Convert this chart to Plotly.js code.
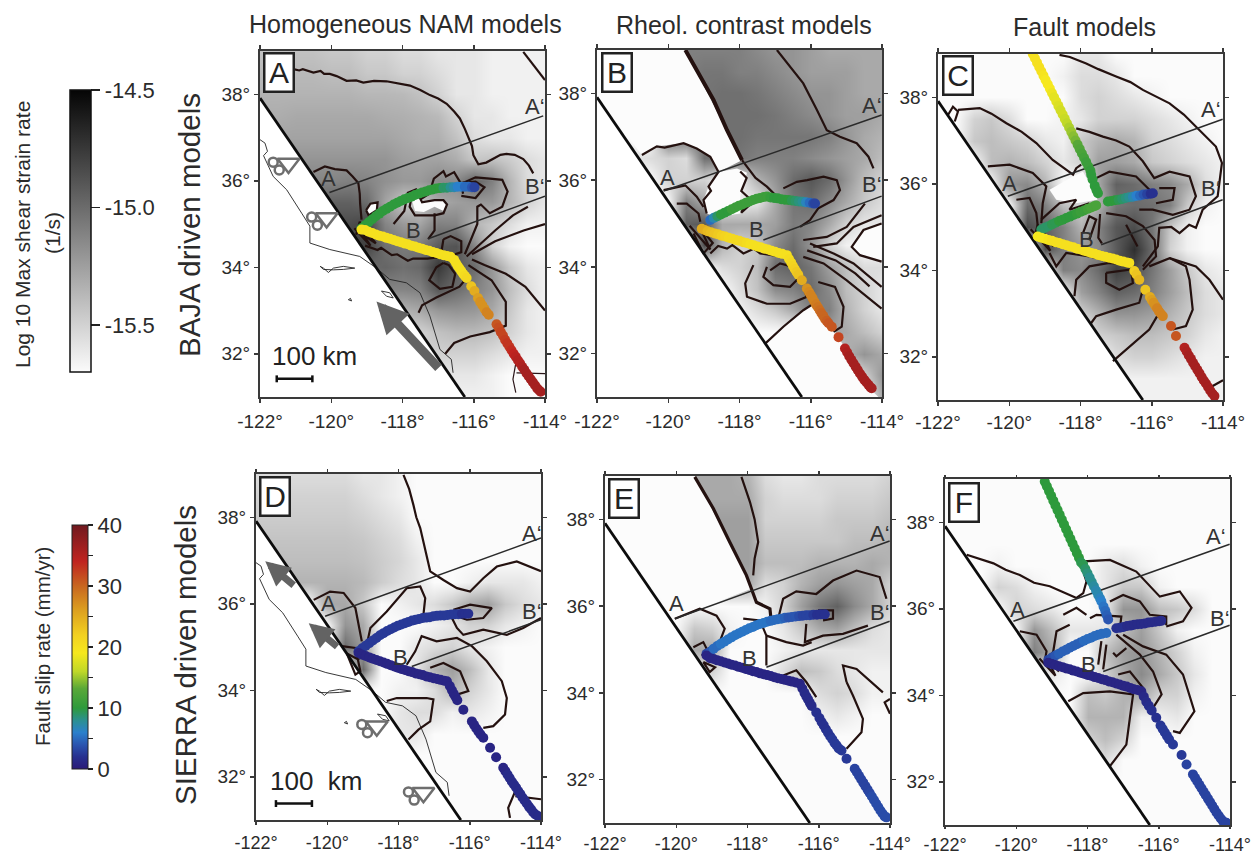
<!DOCTYPE html>
<html><head><meta charset="utf-8">
<script src="https://cdn.plot.ly/plotly-3.0.1.min.js"></script>
<style>html,body{margin:0;padding:0;background:#fff}#g{width:1252px;height:855px}</style></head>
<body><div id="g"></div>
<script>
const gridLon=[-122,-121.5,-121,-120.5,-120,-119.5,-119,-118.5,-118,-117.5,-117,-116.5,-116,-115.5,-115,-114.5,-114];
const gridLat=[39,38.5,38,37.5,37,36.5,36,35.5,35,34.5,34,33.5,33,32.5,32,31.5,31];
const W=-15.7;
const zA=[
[-15.42,-15.42,-15.42,-15.42,-15.45,-15.45,-15.5,-15.5,-15.55,-15.55,-15.6,-15.6,-15.6,-15.65,-15.65,-15.65,-15.65],
[-15.38,-15.38,-15.38,-15.38,-15.4,-15.4,-15.45,-15.45,-15.5,-15.5,-15.55,-15.6,-15.6,-15.65,-15.65,-15.65,-15.65],
[-15.35,-15.35,-15.35,-15.35,-15.35,-15.35,-15.37,-15.37,-15.38,-15.42,-15.5,-15.6,-15.6,-15.65,-15.65,-15.65,-15.65],
[-15.32,-15.32,-15.3,-15.3,-15.3,-15.3,-15.3,-15.32,-15.33,-15.35,-15.38,-15.5,-15.6,-15.6,-15.65,-15.65,-15.65],
[-15.27,-15.27,-15.27,-15.27,-15.27,-15.27,-15.27,-15.27,-15.3,-15.33,-15.33,-15.42,-15.55,-15.6,-15.6,-15.65,-15.65],
[-15.2,-15.2,-15.2,-15.2,-15.2,-15.2,-15.2,-15.2,-15.25,-15.27,-15.27,-15.32,-15.45,-15.42,-15.47,-15.55,-15.6],
[-15.12,-15.12,-15.12,-15.12,-15.12,-15.1,-15.12,-15.18,-15.22,-15.22,-15.15,-15.15,-14.95,-15.1,-15.35,-15.55,-15.6],
[-14.95,-14.95,-14.95,-14.95,-14.95,-14.95,-15,-15.27,-15.45,-15.45,-15.3,-15.25,-15.22,-15.22,-15.35,-15.5,-15.6],
[-14.85,-14.85,-14.85,-14.85,-14.85,-14.85,-14.8,-15.12,-15.22,-15.27,-15.1,-15.12,-15.35,-15.45,-15.55,-15.65,-15.65],
[-14.8,-14.8,-14.8,-14.8,-14.8,-14.8,-14.8,-15.02,-15.07,-15.07,-14.92,-14.88,-15.12,-15.5,-15.65,W,W],
[-15,-15,-15,-15,-15,-15,-15,-14.97,-15.02,-14.98,-14.75,-14.92,-15,-15.22,-15.45,-15.6,-15.65],
[-15.1,-15.1,-15.1,-15.1,-15.1,-15.1,-15.1,-15.12,-15.12,-15.1,-14.9,-15,-15.1,-15.2,-15.4,-15.55,-15.65],
[-15.35,-15.35,-15.35,-15.35,-15.35,-15.35,-15.35,-15.35,-15.35,-15.3,-15.22,-15.2,-15.22,-15.3,-15.45,-15.6,-15.65],
[-15.5,-15.5,-15.5,-15.5,-15.5,-15.5,-15.5,-15.5,-15.5,-15.5,-15.42,-15.38,-15.38,-15.42,-15.5,-15.6,-15.65],
[-15.5,-15.5,-15.5,-15.5,-15.5,-15.5,-15.5,-15.5,-15.5,-15.5,-15.5,-15.5,-15.5,-15.55,-15.6,-15.65,-15.65],
[-15.6,-15.6,-15.6,-15.6,-15.6,-15.6,-15.6,-15.6,-15.6,-15.6,-15.6,-15.6,-15.6,-15.65,W,W,W],
[-15.65,-15.65,-15.65,-15.65,-15.65,-15.65,-15.65,-15.65,-15.65,-15.65,-15.65,-15.65,-15.65,-15.65,W,W,W]];
const zB=[
[W,W,W,W,-15.1,-15.1,-15.1,-15.1,-15.1,-15.15,-15.2,-15.2,-15.25,-15.3,-15.3,-15.3,-15.3],
[W,W,W,W,-15.1,-15.1,-15.05,-15.05,-15.1,-15.1,-15.15,-15.2,-15.25,-15.25,-15.25,-15.3,-15.3],
[W,W,W,W,-15.05,-15.05,-15.05,-15.02,-15.02,-15.05,-15.1,-15.15,-15.2,-15.2,-15.25,-15.3,-15.3],
[W,W,W,W,-15.02,-15.02,-15.02,-15.02,-15.02,-15.02,-15.05,-15.1,-15.15,-15.2,-15.25,-15.25,-15.3],
[W,W,W,W,-15.02,-15.02,-15.02,-15.02,-15.02,-15.05,-15.05,-15.05,-15.05,-15.1,-15.2,-15.3,-15.35],
[W,W,-15.6,-15.55,-15.5,-15.55,-15.02,-15.02,-15.05,-15.1,-15.1,-15.1,-15.15,-15.2,-15.25,-15.3,-15.4],
[W,W,W,W,-15.5,-15.5,-15.5,-15.65,-15.6,-15.35,-15.2,-15,-14.9,-15,-15.2,-15.4,-15.5],
[W,W,W,W,W,-15.1,-15.3,-15.65,-15.65,-15.6,-15.3,-15.05,-15,-15.15,-15.3,-15.45,-15.55],
[W,W,W,W,W,-14.95,-14.9,-15.3,-15.3,-15.3,-15.25,-15.08,-15.12,-15.3,-15.5,-15.6,-15.6],
[W,W,W,W,W,W,-14.85,-15.35,-15.5,-15.45,-15.15,-15,-15.2,-15.5,-15.65,W,W],
[W,W,W,W,W,W,W,-15.55,-15.5,-15.4,-15,-14.95,-15.05,-15.25,-15.4,-15.55,-15.55],
[W,W,W,W,W,W,W,W,-15.55,-15.42,-15.15,-15.1,-15,-15.15,-15.4,-15.5,-15.6],
[W,W,W,W,W,W,W,W,-15.65,-15.55,-15.45,-15.3,-15.1,-15.1,-15.35,-15.5,-15.6],
[W,W,W,W,W,W,W,W,W,W,W,W,W,-15.25,-15.3,-15.4,-15.5],
[W,W,W,W,W,W,W,W,W,W,W,W,W,W,-15.35,-15.2,-15.3],
[W,W,W,W,W,W,W,W,W,W,W,W,W,W,W,-15.5,-15.2],
[W,W,W,W,W,W,W,W,W,W,W,W,W,W,W,W,-15.3]];
const zC=[
[W,W,W,W,W,W,W,W,-15.6,-15.6,W,W,W,W,W,W,W],
[W,W,W,W,W,W,W,-15.65,-15.55,-15.55,-15.6,W,W,W,W,W,W],
[W,W,W,W,W,W,W,W,-15.55,-15.5,-15.55,-15.6,-15.65,W,W,W,W],
[W,W,-15.5,-15.45,-15.55,W,W,-15.65,-15.6,-15.5,-15.5,-15.5,-15.55,-15.6,-15.65,W,W],
[W,W,-15.45,-15.4,-15.45,-15.5,-15.6,-15.65,-15.45,-15.35,-15.3,-15.35,-15.5,-15.55,-15.6,-15.65,W],
[W,W,W,-15.4,-15.35,-15.4,-15.5,-15.6,-15.5,-15.25,-15.25,-15.3,-15.45,-15.5,-15.55,-15.6,-15.65],
[W,W,W,W,-15.2,-15.15,-15.35,W,W,-15.3,-14.95,-15,-15.1,-15.15,-15.3,-15.55,-15.65],
[W,W,W,W,W,-15,-15.1,-15.4,-15.5,-15.35,-15.05,-15,-15.02,-15.1,-15.45,-15.65,W],
[W,W,W,W,W,-14.85,-14.95,-15.1,-15.35,-15.12,-14.9,-14.85,-15.05,-15.45,-15.65,W,W],
[W,W,W,W,W,W,-14.85,-15.1,-15.2,-15.15,-14.92,-14.7,-15,-15.5,-15.65,W,W],
[W,W,W,W,W,W,W,-15.1,-15.15,-15,-14.78,-14.85,-15.05,-15.25,-15.45,-15.6,-15.65],
[W,W,W,W,W,W,W,W,-15.25,-15.12,-14.95,-15,-15.1,-15.25,-15.4,-15.55,-15.6],
[W,W,W,W,W,W,W,W,-15.5,-15.35,-15.2,-15.2,-15.25,-15.35,-15.45,-15.55,-15.6],
[W,W,W,W,W,W,W,W,W,-15.5,-15.45,-15.4,-15.4,-15.45,-15.5,-15.6,-15.65],
[W,W,W,W,W,W,W,W,W,W,-15.55,-15.5,-15.5,-15.55,-15.6,-15.65,-15.65],
[W,W,W,W,W,W,W,W,W,W,-15.65,-15.65,-15.65,-15.65,-15.65,-15.65,-15.65],
[W,W,W,W,W,W,W,W,W,W,W,-15.65,-15.65,-15.65,-15.65,-15.65,-15.65]];
const zD=[
[-15.55,-15.55,-15.55,-15.55,-15.55,-15.55,-15.6,-15.6,-15.65,W,W,W,W,W,W,W,W],
[-15.5,-15.5,-15.5,-15.5,-15.5,-15.5,-15.55,-15.6,-15.65,W,W,W,W,W,W,W,W],
[-15.47,-15.47,-15.47,-15.47,-15.47,-15.47,-15.5,-15.55,-15.6,W,W,W,W,W,W,W,W],
[-15.43,-15.43,-15.43,-15.43,-15.43,-15.43,-15.45,-15.5,-15.55,-15.65,W,W,W,W,W,W,W],
[-15.4,-15.4,-15.4,-15.4,-15.4,-15.4,-15.42,-15.47,-15.52,-15.6,W,W,W,W,W,W,W],
[-15.35,-15.35,-15.35,-15.35,-15.35,-15.35,-15.38,-15.47,-15.55,-15.6,W,W,-15.65,-15.6,-15.6,-15.6,-15.65],
[W,W,W,W,-15.3,-15.3,-15.45,W,-15.65,-15.6,-15.55,-15.45,-15.3,-15.25,-15.45,-15.55,-15.6],
[W,W,W,W,W,-15.2,-15.3,W,W,W,-15.65,-15.6,-15.5,-15.5,-15.6,-15.65,W],
[W,W,W,W,W,-15,-15.25,W,W,-15.6,-15.55,-15.5,-15.6,-15.65,W,W,W],
[W,W,W,W,W,W,-15,W,W,-15.6,-15.35,-15.25,-15.4,-15.6,W,W,W],
[W,W,W,W,W,W,W,W,-15.65,-15.65,-15.55,-15.35,-15.5,-15.6,W,W,W],
[W,W,W,W,W,W,W,W,-15.6,-15.55,-15.55,-15.65,-15.6,-15.65,W,W,W],
[W,W,W,W,W,W,W,W,-15.6,-15.6,W,W,W,W,W,W,W],
[W,W,W,W,W,W,W,W,W,W,W,W,W,W,W,W,W],
[W,W,W,W,W,W,W,W,W,W,W,W,W,W,W,W,W],
[W,W,W,W,W,W,W,W,W,W,W,W,W,W,W,W,W],
[W,W,W,W,W,W,W,W,W,W,W,W,W,W,W,W,W]];
const zE=[
[W,W,W,W,W,-15.3,-15.3,-15.3,-15.35,-15.55,-15.6,-15.6,-15.55,-15.55,-15.55,-15.55,-15.5],
[W,W,W,W,-15.3,-15.3,-15.3,-15.3,-15.3,-15.5,-15.55,-15.55,-15.55,-15.5,-15.5,-15.5,-15.45],
[W,W,W,W,-15.25,-15.25,-15.25,-15.25,-15.25,-15.5,-15.5,-15.5,-15.5,-15.45,-15.45,-15.45,-15.4],
[W,W,W,W,-15.25,-15.25,-15.25,-15.25,-15.25,-15.45,-15.45,-15.45,-15.45,-15.45,-15.4,-15.4,-15.35],
[W,W,W,W,-15.25,-15.25,-15.25,-15.25,-15.25,-15.4,-15.4,-15.4,-15.35,-15.35,-15.35,-15.3,-15.35],
[W,W,W,W,W,W,W,-15.3,-15.3,-15.55,-15.5,-15.35,-15.25,-15.2,-15.25,-15.3,-15.5],
[W,W,W,W,W,W,W,W,W,-15.65,-15.5,-15.25,-15.05,-14.95,-15.15,-15.3,-15.5],
[W,W,W,W,W,-15.45,-15.5,-15.65,W,W,-15.6,-15.45,-15.3,-15.25,-15.4,-15.55,-15.6],
[W,W,W,W,W,-15.3,-15.3,W,W,W,-15.65,-15.6,-15.6,-15.6,-15.6,-15.6,-15.6],
[W,W,W,W,W,W,-15.5,W,W,W,-15.55,-15.4,-15.45,-15.55,-15.6,-15.65,-15.65],
[W,W,W,W,W,W,W,W,W,W,W,W,-15.55,-15.5,-15.55,-15.65,-15.65],
[W,W,W,W,W,W,W,W,W,W,W,W,-15.65,-15.6,-15.65,W,W],
[W,W,W,W,W,W,W,W,W,W,W,W,W,W,W,W,W],
[W,W,W,W,W,W,W,W,W,W,W,W,W,W,W,W,W],
[W,W,W,W,W,W,W,W,W,W,W,W,W,W,W,W,W],
[W,W,W,W,W,W,W,W,W,W,W,W,W,W,W,W,W],
[W,W,W,W,W,W,W,W,W,W,W,W,W,W,W,W,W]];
const zF=[
[W,W,W,W,W,W,W,W,W,W,W,W,W,W,W,W,W],
[W,W,W,W,W,W,W,W,W,W,W,W,W,W,W,W,W],
[W,W,W,W,W,W,W,W,W,W,W,W,W,W,W,W,W],
[W,W,W,W,W,W,W,W,W,W,W,W,W,W,W,W,W],
[W,W,W,-15.65,W,W,W,W,W,-15.6,-15.55,-15.65,W,W,W,W,W],
[W,W,W,-15.5,-15.55,-15.65,W,W,W,-15.6,-15.45,-15.45,-15.65,W,W,W,W],
[W,W,W,W,-15.5,-15.55,-15.6,W,W,-15.65,-15.2,-15.2,-15.4,-15.45,-15.55,W,W],
[W,W,W,W,W,-15.2,-15.4,-15.6,-15.6,-15.6,-15.4,-15.25,-15.45,-15.65,W,W,W],
[W,W,W,W,W,-15.1,-15.3,W,W,-15.4,-15.25,-15.2,-15.35,-15.5,-15.65,W,W],
[W,W,W,W,W,W,-15.6,W,W,-15.5,-15.3,-15.15,-15.3,-15.45,-15.6,W,W],
[W,W,W,W,W,W,W,W,-15.4,-15.45,-15.35,-15.3,-15.5,-15.5,-15.65,W,W],
[W,W,W,W,W,W,W,W,-15.35,-15.35,-15.35,-15.65,-15.65,-15.6,W,W,W],
[W,W,W,W,W,W,W,W,-15.5,-15.4,-15.5,W,W,W,W,W,W],
[W,W,W,W,W,W,W,W,W,-15.55,W,W,W,W,W,W,W],
[W,W,W,W,W,W,W,W,W,W,W,W,W,W,W,W,W],
[W,W,W,W,W,W,W,W,W,W,W,W,W,W,W,W,W],
[W,W,W,W,W,W,W,W,W,W,W,W,W,W,W,W,W]];

const contoursA=[
[-121.06,38.58,-120.9,38.55,-120.8,38.58,-120.5,38.5,-120.3,38.54,-120.2,38.47,-120.04,38.47,-119.85,38.42,-119.57,38.31,-119.3,38.32,-119.1,38.27,-118.8,38.31,-118.45,38.3,-118.1,38.25,-117.79,38.2,-117.5,38.1,-117.23,37.98,-117,37.9,-116.76,37.78,-116.55,37.6,-116.39,37.44,-116.25,37.2,-116.15,37,-116.05,36.8,-116.01,36.59,-115.87,36.38,-115.65,36.42,-115.45,36.52,-115.25,36.6,-115.08,36.62,-114.85,36.6,-114.61,36.5,-114.45,36.35,-114.33,36.17],
[-114.61,38.98,-114.33,38.68,-114,38.33],
[-120.5,36.2,-120.18,36.33,-119.9,36.27,-119.57,36.24,-119.4,36.1,-119.24,35.95,-119.2,35.7,-119.19,35.47,-119.15,35.1],
[-119.02,35.32,-118.9,35.47,-118.7,35.5,-118.72,35.32,-118.95,35.2,-119.02,35.32],
[-118.25,35,-117.95,35.3,-117.85,35.72,-117.62,35.8,-117.48,35.58,-117.25,35.7,-117.12,36.05,-116.85,36.22,-116.78,36.1,-116.55,36.2,-116.35,35.92,-116.3,35.7],
[-117.75,35.6,-117.6,35.75,-117.45,35.5,-117.1,35.55,-116.85,35.55,-116.75,35.45,-116.85,35.25,-117.1,35.2,-117.4,35.2,-117.65,35.2,-117.8,35.4,-117.75,35.6],
[-117.1,35.25,-117.1,34.85,-117.28,34.65],
[-116.3,35.95,-115.95,36.08,-115.55,36.05,-115.2,36.02,-115.05,35.75,-115.2,35.4,-115.55,35.25,-115.8,35.45,-115.9,35.4,-115.9,35,-116.1,34.6,-116.25,34.3],
[-116.35,35.65,-115.95,35.6,-115.7,35.85,-115.95,35.98,-116.35,35.95],
[-114.48,35.4,-114.9,35.2,-115.4,34.85,-115.85,34.5,-116.2,34.25],
[-114,35,-114.6,34.85,-115.4,34.6,-116.05,34.3],
[-116.05,34.18,-115.7,34.05,-115.1,33.85,-114.55,33.55,-114,33],
[-116.15,34.05,-115.5,33.7,-115.1,33.2,-115.1,32.65,-115.55,32.5,-116.1,32.4,-116.55,32.25,-116.8,32],
[-116.2,33.75,-116.4,33.55,-117.05,33.3,-117.45,33.12,-117.55,32.95],
[-116.85,34.1,-116.7,34.05,-116.52,33.85,-116.6,33.55,-116.95,33.5,-117.25,33.7,-117.05,34,-116.85,34.1],
[-116.85,34.65,-116.65,34.72,-116.35,34.6,-116.35,34.35,-116.7,34.25,-116.9,34.4,-116.85,34.65],
[-119.05,34.5,-118.7,34.4,-118.6,34.45,-118.3,34.28,-118.15,34.3,-117.85,34.15,-117.7,34.2,-117.3,34.2,-116.8,34.25],
[-119.35,34.9,-118.9,34.5,-119.1,34.75,-118.75,34.55,-119.2,35.05,-119.3,34.75]];
const contoursB=[
[-117.93,36.46,-117.65,36.15,-117.55,36.05,-117.23,35.85,-116.95,35.62],
[-116.95,39,-116.58,38.62,-116.21,38.23,-115.83,37.62,-115.55,37.15,-115.18,37,-114.71,36.85,-114.38,36.54,-114.24,36.27],
[-116.77,35.81,-116.39,35.96,-116.1,36,-115.64,36.08,-115.27,36,-115.18,35.77,-115.36,35.54,-115.79,35.35,-116.02,35.08,-116.3,34.92],
[-120.74,36.58,-120.32,36.78,-120.1,36.75,-119.57,36.85,-119.2,36.73,-118.82,36.54,-118.59,36.19,-118.87,35.85,-118.8,35.75,-119.01,35.54,-118.92,35.23],
[-120.13,35.77,-119.52,35.88,-119.2,35.62,-119.01,35.38],
[-119.76,35.46,-119.48,35.46,-119.15,35.23,-119.1,35.04],
[-119.4,34.95,-118.82,34.4,-119.1,34.9,-118.75,34.55,-119.01,34.31,-119.29,34.77],
[-118.82,34.31,-118.6,34.48,-118.35,34.42,-118.2,34.5,-117.89,34.31,-117.6,34.42,-117.42,34.31,-116.77,34.23],
[-117.61,34.04,-117.84,33.62,-117.79,33.31,-117.23,33.15,-116.58,33.15,-116.11,33.31,-116.21,33.54],
[-117.23,34,-117.33,33.77,-117.05,33.58,-116.58,33.54,-116.35,33.73,-116.49,34,-116.86,34.08,-117.14,33.92],
[-117.28,32.23,-116.77,32.62,-116.21,33,-115.98,33.12],
[-115.79,33.65,-115.32,33.54,-115.08,33.08,-115.13,32.62,-115.36,32.5],
[-116.21,34.23,-115.64,34.08,-114.99,33.69,-114.43,33.31,-114.01,33.04],
[-116.02,34.54,-115.36,34.31,-114.8,34.08,-114.01,33.54],
[-116.1,34.38,-115.3,34.15,-114.75,33.85,-114.35,33.55],
[-116.21,34.62,-115.55,34.69,-114.99,34.92,-114.48,35.46],
[-114.01,35,-114.52,34.85,-114.85,34.46,-114.62,34.27,-114.01,34.12],
[-114.01,35.19,-114.8,34.92,-115.27,34.54,-115.93,34.46],
[-117.98,36.2,-117.8,36.05,-117.95,35.75,-117.75,35.6,-117.95,35.25,-117.55,35.55]];
const contoursC=[
[-118.59,38.98,-118.3,38.93,-117.84,38.78,-117.5,38.65,-117,38.48,-116.6,38.35,-116.25,38.17,-115.85,38,-115.5,37.86,-115.1,37.6,-114.76,37.32,-114.5,37.1,-114.2,36.86,-114.03,36.48,-114.1,36.09,-114.15,35.71,-114.57,35.4,-114.76,34.98,-114.95,35.05,-115.22,34.86,-115.45,35,-115.79,34.98,-115.83,34.55,-116.25,34.09],
[-121.44,37.71,-120.83,37.75,-120.5,37.62,-120.08,37.4,-119.65,37.2,-119.24,36.94,-118.78,36.55,-118.21,36.21,-118.12,36.36,-117.98,36.44],
[-121.72,37.59,-121.58,37.78,-121.44,37.67,-121.53,37.44],
[-118.12,37.28,-117.75,37.2,-117.37,37.09,-117,37,-116.63,36.86,-116.25,36.52,-115.93,36.13,-115.5,36.28,-114.94,36.17,-114.76,35.71,-114.94,35.4,-115.41,35.28,-115.97,35.4,-116.35,35.4],
[-120.6,36.4,-119.99,36.44,-119.34,36.25,-118.96,35.94,-119.06,35.55,-119.1,35.09],
[-117.56,36.13,-117.19,36.28,-116.44,36.17,-115.88,35.71],
[-115.79,35.9,-115.36,35.9,-115.41,35.63,-115.88,35.55],
[-119.8,35.63,-119.43,35.67,-119.24,35.32,-119.2,35.02],
[-119.1,35.17,-118.59,35.55,-118.12,35.63,-118.31,35.4,-117.75,35.55],
[-117.28,35.32,-116.72,35.25,-116.25,35.02,-115.92,34.7,-115.88,34.32,-116.25,34.01],
[-117.45,35.3,-117.5,34.75,-117.4,34.62],
[-116.72,35.05,-116.55,34.8,-116.4,34.55],
[-117.93,34.86,-117.75,35.25,-117.56,35.17,-117.75,34.71],
[-118.17,33.4,-118.12,33.78,-117.75,34.09,-117.19,34.17,-116.67,34.13],
[-117.28,33.94,-117.28,33.71,-116.91,33.55,-116.53,33.7,-116.58,34.02,-117.28,33.94],
[-117.7,32.78,-117.56,32.94,-117,33.09,-116.35,33.25,-116.25,33.55],
[-117.09,31.9,-116.72,32.17,-116.07,32.63,-115.79,33.02],
[-116.07,34.09,-115.5,34.28,-115.04,34.09,-114.94,33.78,-114.85,33.09,-115.04,32.71,-115.41,32.63],
[-115.5,34.28,-114.76,34.09,-114.38,33.78,-114,33.32],
[-114.34,31.3,-114,31.46],
[-118.87,34.4,-118.68,34.09,-118.4,34.4,-117.75,34.32,-117,34.17],
[-119.4,34.95,-118.85,34.45,-119.1,34.85,-118.75,34.55,-119.2,35.05,-119.3,34.75]];
const contoursD=[
[-117.86,38.98,-117.7,38.65,-117.58,38.28,-117.5,38,-117.39,37.75,-117.3,37.45,-117.21,37.13,-117.11,36.75,-116.74,36.55,-116.36,36.36,-115.99,36.28,-115.62,36.59,-115.24,36.86,-114.68,36.98,-114,36.75],
[-120.38,36.09,-119.92,36.28,-119.54,36.25,-119.21,35.9,-119.03,35.13],
[-118.89,35.05,-118.79,35.44,-118.33,35.82,-117.77,36.36,-117.39,36.4,-117.25,36.13,-117.3,35.75],
[-116.46,35.86,-115.99,35.98,-115.38,35.9,-115.62,35.67,-116.08,35.63,-116.36,35.71,-116.46,35.86],
[-116.5,35.67,-116.36,35.44,-116.18,35.28,-115.62,35.4,-114.96,35.28,-114.5,35.44,-114,35.67],
[-117.77,34.59,-117.53,34.9,-117.35,35.25,-116.93,35.13,-116.36,35.21,-115.94,35.02,-115.52,34.67,-115.1,34.21,-114.96,33.82,-115.01,33.44,-115.34,33.17,-115.62,33.13],
[-117.11,34.52,-116.74,34.63,-116.27,34.44,-116.04,33.98,-116.36,33.9],
[-118.33,33.75,-118.05,33.82,-117.21,33.82,-117.02,33.79,-117.11,33.28,-117.44,33.09,-117.72,32.86],
[-114.68,31.75,-114.92,31.28,-114.87,31.05],
[-114.72,31.55,-114,31.48],
[-119.59,35.02,-119.21,34.98,-119.07,34.44,-119.21,34.36,-119.45,34.85,-119.1,34.7]];
const contoursE=[
[-118.17,38.98,-117.93,38.4,-117.8,38,-117.7,37.48,-117.8,37.1,-117.84,36.71],
[-120.04,35.71,-119.34,35.94,-118.87,35.78,-118.64,35.48,-118.82,35.09,-119.06,34.94],
[-119.52,35.05,-119.24,35.17,-119.1,34.94,-119.29,34.86],
[-119.24,34.71,-118.91,34.59,-119.06,34.48,-119.24,34.71],
[-117.14,35.71,-117,36.17,-116.63,36.34,-116.07,36.28,-115.6,36.59,-114.94,36.82,-114.29,36.67,-114.1,36.17],
[-116.02,35.9,-115.6,35.9,-115.6,35.71,-115.88,35.67],
[-116.35,35.59,-116.39,35.17,-115.88,35.32,-115.32,35.36,-114.62,35.55],
[-118.12,35.71,-117.65,35.67,-117.47,35.32,-117.47,34.94,-117.47,34.63],
[-117.47,35.32,-116.91,35.17,-116.44,35.09,-116.2,35.17],
[-117,34.4,-116.63,34.52,-116.35,34.25,-116.07,33.9],
[-115.22,34.25,-115.32,34.63,-114.94,34.55,-114.2,34.01],
[-115.22,34.25,-115.04,33.94,-114.76,33.4,-114.8,33.09,-115.22,32.71],
[-114,33.86,-114.15,33.78,-114,33.52]];
const contoursF=[
[-121.39,37.25,-120.64,37.05,-120.3,36.9,-119.9,36.78,-119.5,36.6,-119.06,36.52,-118.31,36.25,-118.12,36.36,-118.03,36.63,-118.21,37.09,-117.37,37.13,-116.63,36.86,-115.97,36.28,-115.41,36.4,-115.08,36.02,-115.32,35.71,-115.79,35.59],
[-117.37,36.17,-117,36.32,-116.53,36.17,-116.25,35.86,-115.79,35.82,-115.79,35.62],
[-118.68,35.86,-118.31,36.02,-118.03,35.86],
[-118.5,35.63,-118.87,35.48,-118.96,35.02,-119.06,34.86],
[-119.9,35.48,-119.43,35.4,-119.15,35.02,-119.2,34.78],
[-117,35.4,-116.44,35.13,-115.79,34.94,-115.32,34.48,-115,33.63,-115.41,33.13,-115.6,33.17],
[-117.19,35.4,-116.53,34.94,-116.16,34.55,-115.92,34.02,-116.16,33.71],
[-117.14,34.48,-116.81,34.55,-116.44,34.17],
[-117.61,35.25,-117.7,34.71],
[-117.47,35.17,-117.56,34.6],
[-118.54,33.86,-118.12,34.05,-117.37,34.09,-116.72,34.02,-116.81,33.48,-116.91,32.86,-117.37,32.36],
[-117.28,34.98,-117.19,34.9,-116.91,35.09],
[-117.93,35.78,-117.75,35.86,-117.05,35.82,-117.09,35.55],
[-119.35,34.85,-118.9,34.45,-119.1,34.8,-118.8,34.55]];

const boundary=[[-122,-116.25],[37.91,31]];
const thickB=[-119.52,39,-119.1,38.38,-118.73,37.85,-118.35,37.15,-117.93,36.46];
const thickE=[-119.48,38.98,-118.96,38.25,-118.5,37.48,-118.03,36.71,-117.89,36.4,-117.75,36.09,-117.37,35.94,-117.33,35.63];
const maskWest=[-122,37.91,-116.25,31,-122,31];
const masksA=[[-119.02,35.32,-118.9,35.47,-118.7,35.5,-118.72,35.32,-118.95,35.2],[-117.75,35.6,-117.6,35.75,-117.45,35.5,-117.1,35.55,-116.85,35.55,-116.75,35.45,-116.85,35.3,-117.1,35.4,-117.4,35.28,-117.65,35.3]];
const masksB=[[-122,39,-119.52,39,-117.93,36.46,-118.59,36.19,-118.82,36.54,-119.2,36.73,-119.57,36.85,-120.32,36.78,-120.74,36.58,-122,37.91],
[-117.28,32.23,-116.77,32.62,-116.21,33,-115.98,33.12,-115.41,32.62,-115,32.08,-114.29,31.15,-114.1,31,-116.3,31],
[-114.01,35,-114.52,34.85,-114.85,34.46,-114.62,34.27,-114.01,34.12],
[-118.59,36.19,-118.07,36.27,-117.79,36.17,-117.98,35.62,-117.98,35.23,-118.64,35.15,-118.92,35.23,-119.01,35.54,-118.87,35.85]];
const masksC=[[-118.21,36.17,-117.93,36.28,-117.7,35.94,-117.52,35.63,-118.12,35.55,-118.68,35.63,-118.87,35.86]];
const masksE=[[-122,39,-119.48,39,-118.03,36.71,-117.89,36.4,-119.34,35.94,-120.04,35.71,-122,37.91]];

const coast=[-122,36.95,-121.86,36.87,-121.79,36.68,-121.9,36.58,-121.63,36.1,-121.25,35.79,-120.83,35.25,-120.6,34.95,-120.6,34.56,-120.04,34.41,-119.2,34.25,-118.73,33.98,-118.36,33.72,-117.89,33.64,-117.51,33.41,-117.23,32.87,-116.95,32.1,-116.63,31.87,-116.58,31.56];
const island1=[-120.31,34.02,-120.22,33.98,-120.08,33.88,-119.94,33.98,-119.66,34.02,-119.34,33.98,-119.66,33.95,-119.94,33.94,-120.22,33.95,-120.31,34.02];
const island2=[-119.52,33.25,-119.43,33.22,-119.46,33.28,-119.52,33.25];
const island3=[-118.59,33.45,-118.36,33.41,-118.26,33.29,-118.45,33.33,-118.59,33.45];
const bajaLines=[-114.8,31.87,-114.9,31.41,-114.82,31.1];
const bajaLines2=[-114.8,31.56,-114,31.54];

// fault points: lon, lat, slip (mm/yr)
const garA=[-119.15,34.9,10,-119.05,34.97,10,-118.95,35.04,10,-118.85,35.11,10,-118.75,35.18,10,-118.65,35.24,10,-118.55,35.3,10,-118.45,35.35,10,-118.35,35.4,10,-118.25,35.45,10,-118.15,35.49,10,-118.05,35.53,10,-117.95,35.57,10,-117.85,35.6,10,-117.75,35.63,10,-117.65,35.67,10,-117.55,35.7,10,-117.45,35.73,10,-117.35,35.75,10,-117.25,35.78,10,-117.15,35.8,10,-117.05,35.82,10,-116.95,35.83,10,-116.85,35.84,9,-116.75,35.84,9,-116.65,35.85,8,-116.55,35.85,7,-116.45,35.86,6,-116.35,35.86,6,-116.25,35.86,5,-116.15,35.86,5,-116.05,35.85,4,-115.98,35.85,3];
const safA=[-119.15,34.87,20,-119.05,34.86,20,-118.95,34.82,20,-118.85,34.79,20,-118.75,34.76,20,-118.65,34.73,20,-118.55,34.71,20,-118.45,34.68,20,-118.35,34.66,20,-118.25,34.63,20,-118.15,34.6,20,-118.05,34.58,20,-117.95,34.55,20,-117.85,34.53,20,-117.75,34.5,20,-117.65,34.48,20,-117.55,34.45,20,-117.45,34.43,20,-117.35,34.4,20,-117.25,34.38,20,-117.15,34.35,20,-117.05,34.33,20,-116.95,34.3,20,-116.85,34.28,20,-116.75,34.26,20,-116.65,34.24,20,-116.55,34.17,20,-116.5,34.1,20,-116.45,34.03,20,-116.4,33.97,20,-116.35,33.91,20,-116.3,33.85,20,-116.25,33.8,20.5,-116.2,33.75,21,-116.07,33.56,23,-115.98,33.45,25,-115.88,33.29,26,-115.82,33.2,27,-115.76,33.12,27,-115.7,33.04,27,-115.64,32.96,28,-115.58,32.9,28,-115.36,32.68,31,-115.3,32.6,31.5,-115.24,32.5,32,-115.18,32.42,32,-115.12,32.32,32.5,-115.06,32.24,33,-115,32.16,33,-114.94,32.08,33.5,-114.88,32,34,-114.82,31.93,34.5,-114.76,31.85,35,-114.7,31.78,35,-114.64,31.7,35.5,-114.58,31.63,36,-114.52,31.55,36,-114.46,31.48,36,-114.4,31.41,36,-114.34,31.34,36,-114.28,31.27,36,-114.22,31.2,36,-114.16,31.15,36,-114.12,31.12,36];
const garB=[-118.82,35.08,5,-118.72,35.13,7,-118.62,35.17,9,-118.52,35.21,10,-118.42,35.25,10,-118.32,35.29,10,-118.22,35.33,11,-118.12,35.37,11,-118.02,35.41,11,-117.92,35.44,11,-117.82,35.48,11,-117.72,35.51,11,-117.62,35.54,11,-117.52,35.57,11,-117.42,35.59,11,-117.32,35.61,11,-117.23,35.62,11,-117.13,35.6,10.5,-117.03,35.59,10,-116.93,35.58,10,-116.83,35.56,10,-116.73,35.55,10,-116.63,35.54,10,-116.53,35.53,9.5,-116.43,35.52,9,-116.33,35.51,8.5,-116.23,35.5,8,-116.13,35.49,6.5,-116.03,35.48,5,-115.93,35.46,3.5,-115.88,35.46,3];
const safB=[-119.06,34.88,25,-118.98,34.85,25,-118.9,34.82,24,-118.8,34.8,23.5,-118.7,34.77,23,-118.6,34.75,22.5,-118.5,34.72,22,-118.4,34.7,21.5,-118.3,34.67,21,-118.2,34.65,21,-118.1,34.62,21,-118,34.6,21,-117.9,34.57,21,-117.8,34.55,20.5,-117.7,34.52,20,-117.6,34.5,20,-117.5,34.47,20,-117.4,34.45,20,-117.3,34.42,20,-117.2,34.4,20,-117.1,34.37,20,-117,34.35,20,-116.9,34.32,20,-116.8,34.3,20,-116.67,34.27,20,-116.61,34.18,20.5,-116.55,34.1,21,-116.5,34.02,21.5,-116.45,33.95,22,-116.4,33.88,22.5,-116.35,33.82,23,-116.25,33.69,25,-116.11,33.5,27,-116.05,33.42,27.5,-116,33.35,28,-115.95,33.28,28,-115.9,33.2,28,-115.85,33.13,28.5,-115.8,33.07,29,-115.75,33,29.5,-115.7,32.93,30,-115.65,32.87,30,-115.6,32.8,30,-115.55,32.75,30.5,-115.5,32.7,31,-115.41,32.62,31,-115.22,32.38,32,-115.04,32.12,35,-114.98,32.03,35.5,-114.92,31.94,36,-114.86,31.86,36,-114.8,31.78,36,-114.74,31.7,36,-114.68,31.62,36,-114.62,31.54,36,-114.56,31.47,36,-114.5,31.4,36,-114.44,31.34,36,-114.38,31.28,36,-114.32,31.22,36,-114.29,31.2,36];
const norC=[-119.34,39,20,-119.28,38.9,20,-119.22,38.8,20,-119.16,38.7,20,-119.1,38.6,20,-119.04,38.5,19.5,-118.98,38.4,19,-118.92,38.3,19,-118.86,38.2,19,-118.8,38.1,18.5,-118.74,38,18,-118.68,37.9,18,-118.62,37.8,17.5,-118.56,37.7,17,-118.5,37.6,17,-118.44,37.5,16.5,-118.38,37.4,16,-118.32,37.3,15.5,-118.26,37.2,15,-118.2,37.1,14.5,-118.14,37,14,-118.08,36.9,13,-118.02,36.8,12.5,-117.96,36.7,12,-117.9,36.6,11.5,-117.84,36.5,11,-117.78,36.4,11,-117.72,36.3,10.5,-117.7,36.21,10,-117.66,36.1,10,-117.6,35.95,10,-117.55,35.85,10,-117.51,35.78,10];
const garC=[-119.1,34.94,9,-119,34.98,9,-118.9,35.02,9,-118.8,35.06,9.5,-118.7,35.1,9.5,-118.6,35.14,10,-118.5,35.17,10,-118.4,35.21,10,-118.3,35.24,10,-118.2,35.28,10,-118.1,35.31,10.5,-118,35.35,11,-117.9,35.38,11,-117.8,35.42,11.5,-117.7,35.45,12,-117.62,35.48,12,-117.56,35.5,12];
const gar2C=[-117.23,35.59,10,-117.13,35.6,10,-117.03,35.62,10,-116.93,35.63,9.5,-116.83,35.65,9,-116.73,35.67,8.5,-116.63,35.69,8,-116.53,35.7,7,-116.43,35.72,6,-116.33,35.73,5,-116.23,35.75,4,-116.13,35.76,3,-116.03,35.77,2,-115.97,35.78,2];
const safC=[-119.2,34.78,19,-119.1,34.75,19,-119,34.73,19,-118.9,34.7,19.5,-118.8,34.68,20,-118.7,34.65,20,-118.6,34.63,20,-118.5,34.6,20,-118.4,34.58,20,-118.3,34.55,20,-118.2,34.53,20,-118.1,34.5,20,-118,34.48,20,-117.9,34.45,20,-117.8,34.43,20,-117.7,34.4,20,-117.6,34.38,20,-117.5,34.35,20,-117.4,34.33,20,-117.3,34.31,20,-117.2,34.29,20,-117.1,34.27,20,-117,34.25,20,-116.9,34.22,20,-116.8,34.2,20,-116.7,34.18,20,-116.63,34.17,20,-116.49,33.98,22,-116.43,33.9,23,-116.35,33.78,24,-116.18,33.55,23,-116.05,33.38,25,-116,33.31,26,-115.95,33.25,27,-115.9,33.18,27,-115.85,33.12,28,-115.8,33.05,28,-115.75,33,28,-115.69,32.94,28,-115.46,32.71,31,-115.32,32.48,31,-115.08,32.21,35,-115.02,32.12,35.5,-114.96,32.03,36,-114.9,31.95,36,-114.84,31.86,36,-114.78,31.78,36,-114.72,31.7,36,-114.66,31.62,36,-114.6,31.53,36,-114.54,31.45,36,-114.48,31.38,36,-114.42,31.3,36,-114.36,31.22,36,-114.3,31.15,36,-114.24,31.09,36];
const garD=[-119.12,34.9,2.5,-119.02,34.97,2.5,-118.92,35.03,2.5,-118.82,35.09,2.5,-118.72,35.15,2.5,-118.62,35.21,2.5,-118.52,35.27,2.5,-118.42,35.32,2.5,-118.32,35.37,2.5,-118.22,35.41,2.5,-118.12,35.45,2.5,-118.02,35.49,2.5,-117.92,35.52,2.5,-117.82,35.55,2.5,-117.72,35.58,2.5,-117.62,35.61,2.5,-117.52,35.63,2.5,-117.42,35.65,2.5,-117.32,35.67,2.5,-117.22,35.68,2.5,-117.12,35.69,2.5,-117.02,35.71,2.5,-116.92,35.72,2.5,-116.82,35.73,2.5,-116.72,35.73,2.5,-116.62,35.74,2.5,-116.52,35.75,2.5,-116.42,35.76,2.5,-116.32,35.76,2.5,-116.22,35.77,2,-116.12,35.77,2,-116.04,35.77,2];
const safD=[-119.12,34.86,1,-119.02,34.82,1,-118.92,34.79,1,-118.82,34.76,1,-118.72,34.73,1,-118.62,34.7,1,-118.52,34.67,1,-118.42,34.64,1,-118.32,34.61,1,-118.22,34.58,1,-118.12,34.55,1,-118.02,34.52,1,-117.92,34.49,1,-117.82,34.47,1,-117.72,34.44,1,-117.62,34.42,1,-117.52,34.39,1,-117.42,34.37,1,-117.32,34.35,1,-117.22,34.32,1,-117.12,34.3,1,-117.02,34.28,1,-116.92,34.26,1,-116.82,34.24,1,-116.72,34.22,1,-116.64,34.21,1,-116.56,34.1,1,-116.5,34,1,-116.45,33.92,1,-116.4,33.85,1,-116.35,33.77,1,-116.18,33.55,1,-115.94,33.28,1,-115.88,33.2,1,-115.82,33.12,1,-115.76,33.05,1,-115.7,32.98,1,-115.62,32.9,1,-115.43,32.67,1,-115.26,32.45,1,-115.06,32.21,1,-115,32.13,1,-114.94,32.05,1.5,-114.88,31.97,1.5,-114.82,31.89,1.5,-114.76,31.82,1.5,-114.7,31.75,1.5,-114.64,31.67,1.5,-114.58,31.6,1.5,-114.52,31.52,1.5,-114.46,31.45,1.5,-114.4,31.38,1.5,-114.34,31.31,1.5,-114.28,31.25,1.5,-114.22,31.18,1.5,-114.16,31.13,1.5,-114.08,31.09,1.5];
const garE=[-119.15,34.9,3,-119.05,34.95,4,-118.95,35.02,5,-118.85,35.08,5,-118.75,35.13,5.5,-118.65,35.18,5.5,-118.55,35.23,5.5,-118.45,35.28,5.5,-118.35,35.33,5.5,-118.25,35.37,5.5,-118.15,35.41,5.5,-118.05,35.45,5.5,-117.95,35.49,5.5,-117.85,35.52,5.5,-117.75,35.56,5.5,-117.65,35.59,5.5,-117.55,35.61,5.5,-117.45,35.64,5.5,-117.35,35.66,5,-117.25,35.68,5,-117.15,35.7,5,-117.05,35.71,5,-116.95,35.73,4.5,-116.85,35.74,4,-116.75,35.75,4,-116.65,35.76,4,-116.55,35.77,3.5,-116.45,35.78,3,-116.35,35.79,3,-116.25,35.79,3,-116.15,35.8,2.5,-116.05,35.8,2,-115.95,35.81,2,-115.83,35.81,2];
const safE=[-119.15,34.86,1,-119.05,34.8,1,-118.95,34.78,1,-118.85,34.75,1,-118.75,34.73,1,-118.65,34.7,1,-118.55,34.68,1,-118.45,34.65,1,-118.35,34.63,1,-118.25,34.6,1,-118.15,34.58,1,-118.05,34.55,1,-117.95,34.53,1,-117.85,34.5,1,-117.75,34.48,1,-117.65,34.45,1,-117.55,34.43,1,-117.45,34.41,1,-117.35,34.39,1,-117.25,34.36,1,-117.15,34.34,1,-117.05,34.32,1,-116.95,34.3,1,-116.85,34.28,1,-116.75,34.26,1,-116.65,34.24,1,-116.53,34.21,1,-116.46,34.1,1.2,-116.4,34,1.5,-116.35,33.92,1.5,-116.3,33.85,1.5,-116.25,33.77,1.5,-116.2,33.7,1.5,-116.07,33.55,2,-115.98,33.42,2,-115.92,33.33,2,-115.86,33.25,2,-115.8,33.16,2,-115.74,33.08,2.2,-115.68,33,2.2,-115.62,32.93,2.5,-115.56,32.85,2.5,-115.5,32.79,2.5,-115.44,32.72,2.5,-115.36,32.67,2.5,-115.22,32.48,2.5,-114.99,32.25,3,-114.93,32.17,3,-114.87,32.09,3,-114.81,32.01,3,-114.75,31.93,3,-114.69,31.85,3,-114.63,31.77,3,-114.57,31.69,3.2,-114.51,31.61,3.5,-114.45,31.53,3.5,-114.39,31.45,3.5,-114.33,31.37,3.5,-114.27,31.29,3.5,-114.21,31.22,3.5,-114.15,31.15,3.5,-114.1,31.13,3.5];
const norF=[-119.2,38.94,10,-119.14,38.83,10,-119.08,38.72,10,-119.02,38.61,10,-118.96,38.5,10,-118.9,38.39,10,-118.84,38.28,10,-118.78,38.17,10,-118.72,38.06,10,-118.66,37.95,10,-118.6,37.84,10,-118.54,37.73,10,-118.48,37.62,10,-118.42,37.51,10,-118.36,37.4,10,-118.3,37.29,10,-118.24,37.18,10,-118.18,37.07,9.5,-118.12,37.02,9.5,-118.06,36.92,9,-118,36.82,8.5,-117.94,36.72,8,-117.88,36.62,8,-117.82,36.52,7.5,-117.76,36.42,7,-117.7,36.32,7,-117.65,36.24,6.5,-117.61,36.17,6,-117.55,36.05,5.5,-117.5,35.95,5,-117.46,35.85,4.5,-117.42,35.75,4];
const garF=[-119.1,34.82,3,-119,34.87,3.5,-118.9,34.92,4,-118.8,34.96,4.5,-118.7,35.01,4.5,-118.6,35.05,4.5,-118.5,35.1,4.5,-118.4,35.14,4.5,-118.3,35.18,4.5,-118.2,35.22,4.5,-118.1,35.26,5,-118,35.3,5,-117.9,35.33,5,-117.8,35.37,5,-117.7,35.4,5,-117.6,35.42,5,-117.47,35.44,5];
const gar2F=[-117.19,35.55,2,-117.09,35.56,2,-116.99,35.58,2,-116.89,35.6,1.5,-116.79,35.61,1.5,-116.69,35.63,1.5,-116.59,35.64,1.5,-116.49,35.65,1.5,-116.39,35.66,1.5,-116.29,35.68,1.5,-116.19,35.69,1.5,-116.09,35.7,1.5,-115.99,35.71,1.5,-115.93,35.72,1.5];
const safF=[-119.1,34.75,1,-119,34.72,1,-118.9,34.7,1,-118.8,34.67,1,-118.7,34.65,1,-118.6,34.62,1,-118.5,34.6,1,-118.4,34.57,1,-118.3,34.55,1,-118.2,34.52,1,-118.1,34.5,1,-118,34.47,1,-117.9,34.45,1,-117.8,34.42,1,-117.7,34.4,1,-117.6,34.37,1,-117.5,34.35,1,-117.4,34.32,1,-117.3,34.3,1,-117.2,34.27,1,-117.1,34.25,1,-117,34.22,1,-116.9,34.2,1,-116.8,34.17,1,-116.7,34.14,1,-116.6,34.12,1,-116.49,34.09,1,-116.42,33.97,1.3,-116.35,33.85,1.5,-116.28,33.76,1.7,-116.2,33.65,2,-116.07,33.48,2,-115.95,33.3,2.3,-115.89,33.22,2.5,-115.83,33.14,2.5,-115.77,33.06,2.5,-115.71,32.98,2.5,-115.6,32.86,2.5,-115.36,32.62,2.5,-115.22,32.4,3,-115.04,32.17,3,-114.98,32.09,3,-114.92,32.01,3,-114.86,31.93,3,-114.8,31.85,3,-114.74,31.77,3,-114.68,31.69,3,-114.62,31.61,3,-114.56,31.53,3,-114.5,31.45,3,-114.44,31.37,3,-114.38,31.29,3,-114.32,31.22,3,-114.26,31.15,3,-114.2,31.09,3,-114.1,31.05,3];

const xTickVals=[-122,-120,-118,-116,-114];
const xTickText=['-122°','-120°','-118°','-116°','-114°'];
const yTickVals=[32,34,36,38];
const yTickText=['32°','34°','36°','38°'];
const letters=['A','B','C','D','E','F'];

const panels=[
{box:[260,545,51,397],lab:[278.5,72],tk:[4,2,19],z:zA,c:contoursA,m:masksA,ab:[-120.05,35.73,-114.05,37.5,-117.28,34.66,-114,35.64],lbl:[-120.08,36.06,-114.29,37.72,-117.68,34.85,-114.29,35.87],f:[garA,safA]},
{box:[597,882,50,397],lab:[617,72],tk:[4,2,19],z:zB,c:contoursB,m:masksB,thick:thickB,ab:[-120.13,35.75,-114.01,37.5,-117.33,34.62,-114.01,35.63],lbl:[-120.02,36.06,-114.29,37.73,-117.53,34.87,-114.29,35.9],f:[garB,safB]},
{box:[938,1223,54,400],lab:[958,75],tk:[4,0,19],z:zC,c:contoursC,m:masksC,ab:[-120.04,35.71,-114.01,37.49,-117.42,34.59,-114.01,35.63],lbl:[-119.99,36,-114.34,37.71,-117.84,34.72,-114.34,35.9],f:[norC,garC,gar2C,safC]},
{box:[256,541,474,820],lab:[275,497],tk:[3,2,18],z:zD,c:contoursD,m:[],ab:[-120.06,35.71,-114,37.52,-117.63,34.55,-114,35.63],lbl:[-119.96,36,-114.26,37.63,-117.95,34.76,-114.26,35.82],f:[garD,safD]},
{box:[605,890,476,823],lab:[624,498],tk:[3,0,18],z:zE,c:contoursE,m:masksE,thick:thickE,ab:[-120.04,35.71,-114.01,37.5,-117.47,34.59,-114.01,35.65],lbl:[-119.99,36.05,-114.29,37.67,-117.95,34.8,-114.29,35.86],f:[garE,safE]},
{box:[945,1230,479,825],lab:[964,502],tk:[2,0,18],z:zF,c:contoursF,m:[],ab:[-120.08,35.71,-114.01,37.49,-117.56,34.55,-114.01,35.62],lbl:[-119.97,35.99,-114.38,37.67,-117.96,34.71,-114.29,35.78],f:[norF,garF,gar2F,safF]}
];

const W_=1252,H_=855,px=x=>x/W_,py=y=>1-y/H_;
const lonsOf=a=>a.filter((_,i)=>i%2==0),latsOf=a=>a.filter((_,i)=>i%2==1);
const col3=(a,k)=>a.filter((_,i)=>i%3==k);
function join(list){const x=[],y=[];list.forEach(a=>{x.push(...lonsOf(a),null);y.push(...latsOf(a),null);});return {x,y};}
const TXT='#2b2b2b',FONT='"Liberation Sans",Arial,sans-serif';
const data=[],annotations=[],layout={
 width:W_,height:H_,margin:{l:0,r:0,t:0,b:0,autoexpand:false},paper_bgcolor:'#fff',plot_bgcolor:'#fff',showlegend:false,
 font:{family:FONT,color:TXT},
 coloraxis:{cmin:-15.7,cmax:-14.5,colorscale:[[0,'#fbfbfb'],[1,'#050505']],
  colorbar:{x:px(70),y:py(90),xanchor:'left',yanchor:'top',xpad:0,ypad:0,len:282,lenmode:'pixels',thickness:21,thicknessmode:'pixels',
  outlinecolor:'#111',outlinewidth:1.5,ticks:'outside',ticklen:9,tickwidth:1.2,tickcolor:'#222',tickvals:[-14.5,-15,-15.5],ticktext:['-14.5','-15.0','-15.5'],tickfont:{size:22,color:TXT,family:FONT}}},
 coloraxis2:{cmin:0,cmax:40,colorscale:[[0,'#2a1a78'],[0.05,'#27308f'],[0.1,'#2a55b0'],[0.15,'#2a80cc'],[0.2,'#2a9090'],[0.25,'#2e9a3c'],[0.33,'#5aa838'],[0.4,'#c0d828'],[0.475,'#f6e81e'],[0.55,'#f2d020'],[0.65,'#dca020'],[0.75,'#c86620'],[0.85,'#c02420'],[1,'#70191f']],
  colorbar:{x:px(72),y:py(525),xanchor:'left',yanchor:'top',xpad:0,ypad:0,len:244,lenmode:'pixels',thickness:16,thicknessmode:'pixels',
  outlinecolor:'#222',outlinewidth:1,ticks:'outside',ticklen:5,tickwidth:1.2,tickcolor:'#222',tickvals:[0,5,10,15,20,25,30,35,40],ticktext:['0','','10','','20','','30','','40'],tickfont:{size:22,color:TXT,family:FONT}}}
};
function T(text,x,y,size,rot){annotations.push({xref:'paper',yref:'paper',x:px(x),y:py(y),text,showarrow:false,xanchor:'center',yanchor:'middle',textangle:rot||0,font:{size,color:TXT,family:FONT}});}

panels.forEach((p,i)=>{
 const n=i?String(i+1):'',xa='x'+n,ya='y'+n;
 const axBase={showgrid:false,zeroline:false,showline:true,linecolor:'#3a3a3a',linewidth:2,mirror:'ticks',ticks:'outside',ticklen:4,tickwidth:1.5,tickcolor:'#3a3a3a',tickfont:{size:19,color:TXT,family:FONT},ticklabeloverflow:'allow'};
 layout['xaxis'+n]=Object.assign({},axBase,{domain:[px(p.box[0]),px(p.box[1])],range:[-122,-114],anchor:ya,tickmode:'array',tickvals:xTickVals,ticktext:xTickText,ticklen:p.tk[0],ticklabelstandoff:p.tk[1],tickfont:{size:p.tk[2],color:TXT,family:FONT}});
 layout['yaxis'+n]=Object.assign({},axBase,{domain:[py(p.box[3]),py(p.box[2])],range:[31,39],anchor:xa,tickmode:'array',tickvals:yTickVals,ticktext:yTickText});
 data.push({type:'heatmap',x:gridLon,y:gridLat,z:p.z,zsmooth:'best',coloraxis:'coloraxis',xaxis:xa,yaxis:ya,hoverinfo:'skip'});
 const line=(x,y,color,width)=>data.push({type:'scatter',mode:'lines',x,y,xaxis:xa,yaxis:ya,line:{color,width},hoverinfo:'skip',connectgaps:false});
 const fillP=a=>data.push({type:'scatter',mode:'lines',x:[...lonsOf(a),lonsOf(a)[0]],y:[...latsOf(a),latsOf(a)[0]],fill:'toself',fillcolor:'#fcfcfc',line:{width:0,color:'#fcfcfc'},xaxis:xa,yaxis:ya,hoverinfo:'skip'});
 data.push({type:'scatter',mode:'lines',x:[...lonsOf(maskWest),-122],y:[...latsOf(maskWest),37.91],fill:'toself',fillcolor:'#fff',line:{width:0,color:'#fff'},xaxis:xa,yaxis:ya,hoverinfo:'skip'});
 p.m.forEach(fillP);
 if(i==0||i==3){const cs=join([coast,island1,island2,island3]);line(cs.x,cs.y,'#222',0.9);}
 if(i==0){const b=join([bajaLines,bajaLines2]);line(b.x,b.y,'#2a1518',1.2);}
 const c=join(p.c);line(c.x,c.y,'#24110f',2.2);
 if(p.thick){line(lonsOf(p.thick),latsOf(p.thick),'#24110f',i==1?4:3.2);}
 line(boundary[0],boundary[1],'#0c0c0c',2.8);
 const ab=p.ab;line([ab[0],ab[2],null,ab[4],ab[6]],[ab[1],ab[3],null,ab[5],ab[7]],'#2a2a2a',1.5);
 p.f.forEach(f=>data.push({type:'scatter',mode:'markers',x:col3(f,0),y:col3(f,1),xaxis:xa,yaxis:ya,hoverinfo:'skip',marker:{color:col3(f,2),coloraxis:'coloraxis2',size:10,line:{width:0}}}));
 const l=p.lbl;[['A',l[0],l[1]],['A‘',l[2],l[3]],['B',l[4],l[5]],['B‘',l[6],l[7]]].forEach(t=>annotations.push({xref:xa,yref:ya,x:t[1],y:t[2],text:t[0],showarrow:false,xanchor:'center',yanchor:'middle',font:{size:22,color:'#333',family:FONT}}));
 annotations.push({xref:'paper',yref:'paper',x:px(p.lab[0]),y:py(p.lab[1]),text:letters[i],showarrow:false,xanchor:'center',yanchor:'middle',width:27,height:36,bgcolor:'#fff',bordercolor:'#222',borderwidth:2.5,borderpad:0,align:'center',valign:'middle',font:{size:30,color:'#222',family:FONT}});
 if(i==0||i==3){
  const ic=i==0?[[-121.2,36.4,-121.63,36.43,-121.46,36.25],[-120.13,35.14,-120.55,35.16,-120.39,34.97]]:[[-118.61,33.17,-119.03,33.21,-118.87,33.02],[-117.3,31.63,-117.72,31.65,-117.56,31.46]];
  ic.forEach(k=>{
   data.push({type:'scatter',mode:'markers',x:[k[0]],y:[k[1]],xaxis:xa,yaxis:ya,hoverinfo:'skip',marker:{symbol:'triangle-down-open',size:19,color:'#6e6e6e',line:{width:2.5,color:'#6e6e6e'}}});
   data.push({type:'scatter',mode:'markers',x:[k[2],k[4]],y:[k[3],k[5]],xaxis:xa,yaxis:ya,hoverinfo:'skip',marker:{symbol:'circle-open',size:9,color:'#6e6e6e',line:{width:2.5,color:'#6e6e6e'}}});
  });
  const s=i==0?[-121.53,-120.53,31.42]:[-121.44,-120.43,31.38];
  line([s[0],s[0],null,s[0],s[1],null,s[1],s[1]],[s[2]-.08,s[2]+.08,null,s[2],s[2],null,s[2]-.08,s[2]+.08],'#111',2.5);
  annotations.push({xref:xa,yref:ya,x:i==0?-120.48:-120.31,y:i==0?31.95:31.9,text:i==0?'100 km':'100\u00a0\u00a0km',showarrow:false,xanchor:'center',yanchor:'middle',font:{size:26,color:'#222',family:FONT}});
  const arrows=i==0?[[-116.95,31.64,-118.73,33.21,9]]:[[-120.9,36.4,-121.74,36.98,7],[-119.68,34.98,-120.52,35.55,7]];
  arrows.forEach(a=>annotations.push({xref:xa,yref:ya,axref:xa,ayref:ya,ax:a[0],ay:a[1],x:a[2],y:a[3],text:'',showarrow:true,arrowhead:2,arrowsize:0.7,arrowwidth:a[4],arrowcolor:'#636363'}));
 }
});
T('Homogeneous NAM models',405,24,25);
T('Rheol. contrast models',744,25,25);
T('Fault models',1084,27,25);
T('BAJA driven models',190,225,29.5,-90);
T('SIERRA driven models',185,655,29.5,-90);
T('Log 10 Max shear strain rate',22,235,21,-90);
T('(1/s)',52,233,21,-90);
T('Fault slip rate (mm/yr)',42,647,20.5,-90);
layout.annotations=annotations;
Plotly.newPlot('g',data,layout,{displayModeBar:false,staticPlot:true});
</script></body></html>
